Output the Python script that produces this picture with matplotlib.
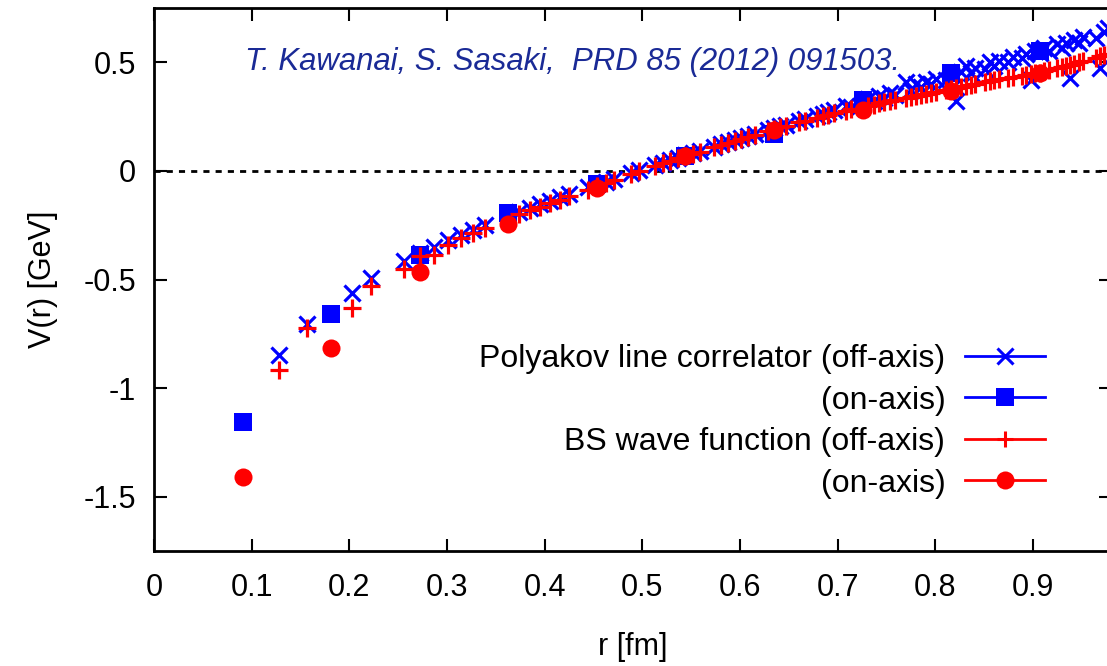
import matplotlib
matplotlib.use("Agg")
import matplotlib.pyplot as plt
from matplotlib.lines import Line2D

plt.rcParams['font.family'] = ['Liberation Sans', 'DejaVu Sans']

# on-axis separations r = n*a (fm)
r_on = [0.0907, 0.1814, 0.2721, 0.3628, 0.4535, 0.5442, 0.6349, 0.7256, 0.8163, 0.9070]
v_pl_on = [-1.155, -0.657, -0.385, -0.193, -0.062, 0.068, 0.170, 0.325, 0.450, 0.552]
v_bs_on = [-1.408, -0.815, -0.467, -0.243, -0.078, 0.067, 0.187, 0.282, 0.366, 0.452]

# off-axis separations (fm)
r_off = [0.1283, 0.1571, 0.2028, 0.2222, 0.2565, 0.2721, 0.2868, 0.3008, 0.3142, 0.3270,
         0.3394, 0.3740, 0.3848, 0.3954, 0.4056, 0.4156, 0.4254, 0.4443, 0.4535, 0.4625,
         0.4713, 0.4884, 0.4968, 0.5131, 0.5210, 0.5289, 0.5366, 0.5442, 0.5517, 0.5591,
         0.5736, 0.5808, 0.5878, 0.5948, 0.6016, 0.6084, 0.6152, 0.6284, 0.6349, 0.6413,
         0.6477, 0.6603, 0.6665, 0.6787, 0.6848, 0.6907, 0.6967, 0.7084, 0.7142, 0.7313,
         0.7368, 0.7424, 0.7479, 0.7534, 0.7589, 0.7696, 0.7749, 0.7802, 0.7855, 0.7907,
         0.7959, 0.8010, 0.8112, 0.8163, 0.8213, 0.8263, 0.8313, 0.8362, 0.8411, 0.8508,
         0.8557, 0.8605, 0.8652, 0.8747, 0.8794, 0.8887, 0.8933, 0.8979, 0.9024, 0.9070,
         0.9115, 0.9160, 0.9250, 0.9294, 0.9338, 0.9382, 0.9426, 0.9470, 0.9513, 0.9642,
         0.9684, 0.9726, 0.9769]

# Polyakov line correlator, off-axis
v_pl_off = [-0.849, -0.704, -0.562, -0.493, -0.413, -0.380, -0.349, -0.320, -0.294, -0.270,
            -0.249, -0.189, -0.171, -0.154, -0.137, -0.121, -0.106, -0.076, -0.062, -0.049,
            -0.035, -0.010, 0.002, 0.026, 0.038, 0.049, 0.060, 0.071, 0.081, 0.092,
            0.112, 0.122, 0.132, 0.141, 0.151, 0.160, 0.169, 0.187, 0.196, 0.205,
            0.213, 0.230, 0.239, 0.255, 0.263, 0.271, 0.279, 0.300, 0.296, 0.330,
            0.321, 0.345, 0.336, 0.359, 0.350, 0.410, 0.372, 0.398, 0.385, 0.410,
            0.400, 0.425, 0.418, 0.440, 0.320, 0.455, 0.482, 0.450, 0.474, 0.468,
            0.503, 0.484, 0.505, 0.500, 0.525, 0.518, 0.540, 0.420, 0.552, 0.541,
            0.565, 0.550, 0.582, 0.567, 0.590, 0.430, 0.604, 0.590, 0.615, 0.610,
            0.475, 0.640, 0.660]

# BS wave function, off-axis
v_bs_off = [-0.918, -0.723, -0.631, -0.528, -0.451, -0.392, -0.388, -0.339, -0.310, -0.285,
            -0.262, -0.200, -0.182, -0.165, -0.148, -0.132, -0.117, -0.086, -0.070, -0.056,
            -0.042, -0.012, 0.000, 0.024, 0.036, 0.047, 0.058, 0.068, 0.079, 0.089,
            0.109, 0.119, 0.129, 0.138, 0.148, 0.157, 0.166, 0.184, 0.193, 0.201,
            0.209, 0.225, 0.232, 0.245, 0.252, 0.258, 0.265, 0.277, 0.284, 0.301,
            0.305, 0.311, 0.317, 0.322, 0.327, 0.337, 0.342, 0.346, 0.351, 0.355,
            0.360, 0.365, 0.374, 0.378, 0.383, 0.387, 0.391, 0.396, 0.400, 0.408,
            0.413, 0.417, 0.421, 0.427, 0.431, 0.438, 0.442, 0.445, 0.449, 0.453,
            0.458, 0.463, 0.472, 0.477, 0.483, 0.489, 0.494, 0.500, 0.505, 0.521,
            0.527, 0.532, 0.537]

labels = ["Polyakov line correlator (off-axis)", "(on-axis)",
          "BS wave function (off-axis)", "(on-axis)"]
xticks = [0, 0.1, 0.2, 0.3, 0.4, 0.5, 0.6, 0.7, 0.8, 0.9]
xtick_labels = ["0", "0.1", "0.2", "0.3", "0.4", "0.5", "0.6", "0.7", "0.8", "0.9"]
yticks = [-1.5, -1, -0.5, 0, 0.5]
ytick_labels = ["-1.5", "-1", "-0.5", "0", "0.5"]
citation = "T. Kawanai, S. Sasaki,  PRD 85 (2012) 091503."

fs = 22

fig = plt.figure(figsize=(11.07, 6.66), dpi=100)
ax = fig.add_axes([154 / 1107, 115 / 666, 957 / 1107, 543 / 666])

ax.axhline(0, color='black', lw=2, ls=(0, (2.2, 2.2)), zorder=1)

ax.plot(r_off, v_pl_off, ls='none', marker='x', ms=12, mew=2.3, color='#0000ff', zorder=2)
ax.plot(r_on, v_pl_on, ls='none', marker='s', ms=13, mew=0, color='#0000ff', zorder=3)
ax.plot(r_off, v_bs_off, ls='none', marker='+', ms=12.5, mew=2.3, color='#ff0000', zorder=4)
ax.plot(r_on, v_bs_on, ls='none', marker='o', ms=13, mew=0, color='#ff0000', zorder=5)

ax.set_xlim(0, 0.98)
ax.set_ylim(-1.75, 0.75)
ax.set_xticks(xticks)
ax.set_xticklabels(xtick_labels)
ax.set_yticks(yticks)
ax.set_yticklabels(ytick_labels)
ax.tick_params(direction='in', length=9, width=1.5, labelsize=fs,
               top=True, right=True, pad=13)
ax.tick_params(axis='x', pad=16)
for s in ax.spines.values():
    s.set_linewidth(2)

ax.set_xlabel("r [fm]", fontsize=fs, labelpad=21)
ax.set_ylabel("V(r) [GeV]", fontsize=fs, labelpad=18)

ax.text(0.095, 0.90, citation, transform=ax.transAxes, fontsize=fs + 0.4,
        style='italic', color='#1a2a96', va='center', ha='left')

handles = [
    Line2D([], [], color='#0000ff', lw=2, marker='x', ms=11, mew=2.2),
    Line2D([], [], color='#0000ff', lw=2, marker='s', ms=13, mew=0),
    Line2D([], [], color='#ff0000', lw=2, marker='+', ms=12, mew=2.2),
    Line2D([], [], color='#ff0000', lw=2, marker='o', ms=13, mew=0),
]
ax.legend(handles, labels, loc='upper right', bbox_to_anchor=(0.931, 0.381),
          frameon=False, markerfirst=False, fontsize=fs + 1, handlelength=2.5,
          handletextpad=0.62, labelspacing=0.36, borderpad=0, borderaxespad=0)

fig.savefig("out.png", dpi=100)
